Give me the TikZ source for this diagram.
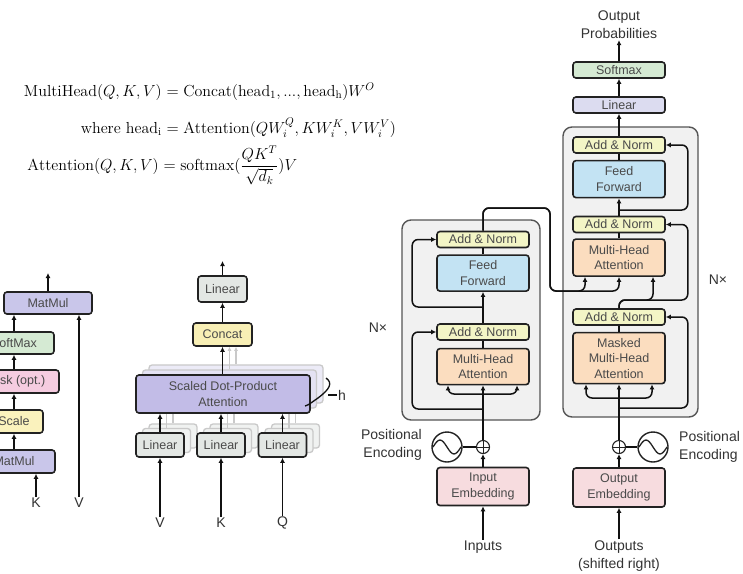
\documentclass[tikz,border=0pt]{standalone}
\usepackage{amsmath}
\usepackage{graphicx}
\usepackage{fontspec}
\setsansfont{Liberation Sans}
\usetikzlibrary{arrows.meta,backgrounds,calc,positioning}
\definecolor{boxInk}{HTML}{222222}
\definecolor{lineInk}{HTML}{111111}
\definecolor{labelInk}{HTML}{4A4A4A}
\definecolor{captionInk}{HTML}{333333}
\definecolor{normFill}{HTML}{F3F5C6}
\definecolor{ffFill}{HTML}{C3E3F3}
\definecolor{attnFill}{HTML}{FBDDBF}
\definecolor{embedFill}{HTML}{F7DCDF}
\definecolor{softFill}{HTML}{D5EAD3}
\definecolor{linearFill}{HTML}{DCDCF0}
\definecolor{stackFill}{HTML}{F1F1F1}
\definecolor{stackLine}{HTML}{555555}
\definecolor{matFill}{HTML}{C9C6EA}
\definecolor{maskFill}{HTML}{F5CCE0}
\definecolor{scaleFill}{HTML}{FAF2BD}
\definecolor{concatFill}{HTML}{F8EFB5}
\definecolor{linGray}{HTML}{E3E7E4}
\definecolor{sdpaFill}{HTML}{C2BCE7}
\definecolor{ghostLine}{HTML}{C9C9C9}
\definecolor{ghostFill}{HTML}{E4E2F3}
\definecolor{ghostLinFill}{HTML}{F0F2F1}
\newcommand{\eqbox}[1]{\scalebox{1.11}{$#1$}}
\tikzset{
  block/.style={
    draw=boxInk,
    line width=1.6pt,
    rounded corners=3pt,
    font=\sffamily\fontsize{12.5}{15.5}\selectfont,
    text=labelInk,
    align=center,
    inner sep=0pt
  },
  addnorm box/.style={block, fill=normFill, minimum width=92pt, minimum height=16pt},
  ff box/.style={block, fill=ffFill, minimum width=92pt, minimum height=36pt},
  attn box/.style={block, fill=attnFill, minimum width=92pt, minimum height=36pt},
  embed box/.style={block, fill=embedFill, minimum width=92pt, minimum height=38pt},
  ghost box/.style={
    draw=ghostLine,
    line width=1.3pt,
    rounded corners=3pt,
    inner sep=0pt
  },
  stack/.style={
    draw=stackLine,
    fill=stackFill,
    line width=1.4pt,
    rounded corners=9pt,
    inner sep=0pt
  },
  adder/.style={
    circle,
    draw=boxInk,
    line width=1.1pt,
    minimum size=13pt,
    inner sep=0pt,
    path picture={
      \draw[line width=1pt] (path picture bounding box.north) -- (path picture bounding box.south)
        (path picture bounding box.west) -- (path picture bounding box.east);
    }
  },
  wave/.style={
    circle,
    draw=boxInk,
    line width=1.4pt,
    minimum size=30pt,
    inner sep=0pt,
    path picture={
      \draw[line width=1.3pt] ([xshift=-14pt]path picture bounding box.center)
        sin ++(7,-7) cos ++(7,7) sin ++(7,7) cos ++(7,-7);
    }
  },
  flow/.style={
    -{Latex[length=5pt,width=5pt]},
    draw=lineInk,
    line width=1.5pt,
    rounded corners=6pt
  },
  ghost flow/.style={
    -{Latex[length=4pt,width=4pt]},
    draw=ghostLine,
    line width=1.2pt
  },
  wire/.style={
    draw=lineInk,
    line width=1.5pt
  },
  caption/.style={
    font=\sffamily\fontsize{14}{18}\selectfont,
    text=captionInk,
    align=center,
    inner sep=1pt
  },
  formula lhs/.style={
    anchor=base east,
    inner sep=0pt,
    font=\fontsize{14.4}{17}\selectfont
  },
  formula rhs/.style={
    anchor=base west,
    inner sep=0pt,
    font=\fontsize{14.4}{17}\selectfont
  }
}

\begin{document}
\begin{tikzpicture}[x=1pt,y=-1pt,node distance=6pt]
  \useasboundingbox (0,0) rectangle (743,573);

  % formulas, lined up on the equals signs
  \node[formula lhs] (eq-multihead-lhs) at (162,96) {\eqbox{\mathrm{MultiHead}(Q,K,V)}};
  \node[formula rhs] (eq-multihead-rhs) at (162,96)
    {\eqbox{{}=\mathrm{Concat}(\mathrm{head_1},...,\mathrm{head_h})W^O}};
  \node[formula lhs] (eq-head-lhs) at (162,133) {\eqbox{\text{where }\mathrm{head_i}}};
  \node[formula rhs] (eq-head-rhs) at (162,133)
    {\eqbox{{}=\mathrm{Attention}(QW_i^Q,KW_i^K,VW_i^V)}};
  \node[formula lhs] (eq-attention-lhs) at (159,170) {\eqbox{\mathrm{Attention}(Q,K,V)}};
  \node[formula rhs] (eq-attention-rhs) at (159,170)
    {\eqbox{{}=\mathrm{softmax}(\dfrac{QK^T}{\sqrt{d_k}})V}};

  % scaled dot-product attention
  \node[block,fill=matFill,minimum width=88pt,minimum height=22pt] (sd-matmul2) at (48,303) {MatMul};
  \node[block,fill=softFill,minimum width=80pt,minimum height=22pt] (sd-softmax) at (14,343) {SoftMax};
  \node[block,fill=maskFill,minimum width=90pt,minimum height=23pt] (sd-mask) at (14,381.5) {Mask (opt.)};
  \node[block,fill=scaleFill,minimum width=58pt,minimum height=23pt] (sd-scale) at (14,421.5) {Scale};
  \node[block,fill=matFill,minimum width=82pt,minimum height=23pt] (sd-matmul1) at (14,461.5) {MatMul};
  \node[caption] (sd-k) at (36,503) {K};
  \node[caption] (sd-v) at (79,503) {V};
  \coordinate (sd-out) at (48,273);

  \draw[flow] (sd-matmul2.north) -- (sd-out);
  \draw[flow] (sd-softmax.north) -- (sd-softmax.north |- sd-matmul2.south);
  \draw[flow] (sd-mask.north) -- (sd-softmax.south);
  \draw[flow] (sd-scale.north) -- (sd-mask.south);
  \draw[flow] (sd-matmul1.north) -- (sd-scale.south);
  \draw[flow] (sd-k.north) -- (sd-k.north |- sd-matmul1.south);
  \draw[flow] (sd-v.north) -- (sd-v.north |- sd-matmul2.south);

  % multi-head attention
  \node[block,fill=linGray,minimum width=49pt,minimum height=26pt] (mh-linear) at (222.5,289) {Linear};
  \node[block,fill=concatFill,minimum width=59pt,minimum height=23pt] (mh-concat) at (222.5,334.5) {Concat};
  \node[ghost box,fill=ghostFill!70,minimum width=174pt,minimum height=38pt] (mh-sdpa-g2) at (236,384) {};
  \node[ghost box,fill=ghostFill,minimum width=174pt,minimum height=38pt] (mh-sdpa-g1) at (229.5,389) {};
  \draw[ghost flow] (mh-sdpa-g2.north) -- (mh-sdpa-g2.north |- mh-concat.south);
  \draw[ghost flow] (mh-sdpa-g1.north) -- (mh-sdpa-g1.north |- mh-concat.south);
  \foreach \name/\x in {v/160,k/221,q/282.5} {
    \node[ghost box,fill=ghostLinFill,minimum width=48pt,minimum height=24pt] (mh-lin-\name-g2) at (\x+13,436) {};
    \node[ghost box,fill=ghostLinFill,minimum width=48pt,minimum height=24pt] (mh-lin-\name-g1) at (\x+6.5,440.5) {};
    \draw[ghost flow] (mh-lin-\name-g2.north) -- (mh-lin-\name-g2.north |- mh-sdpa-g2.south);
    \draw[ghost flow] (mh-lin-\name-g1.north) -- (mh-lin-\name-g1.north |- mh-sdpa-g1.south);
  }
  \node[block,fill=sdpaFill,minimum width=174pt,minimum height=38pt] (mh-sdpa) at (223,394) {Scaled Dot-Product\\Attention};
  \foreach \name/\x/\label in {v/160/V,k/221/K,q/282.5/Q} {
    \node[block,fill=linGray,minimum width=48pt,minimum height=24pt] (mh-lin-\name) at (\x,445) {Linear};
    \node[caption] (mh-in-\name) at (\x,523) {\label};
    \draw[flow] (mh-in-\name.north) -- (mh-lin-\name.south);
    \draw[flow] (mh-lin-\name.north) -- (mh-lin-\name.north |- mh-sdpa.south);
  }
  \coordinate (mh-out) at (222.5,261);
  \draw[flow] (mh-linear.north) -- (mh-out);
  \draw[flow] (mh-concat.north) -- (mh-linear.south);
  \draw[flow] (mh-sdpa.north -| mh-concat.south) -- (mh-concat.south);
  \node[caption] (mh-h) at (342,395) {h};
  \coordinate (mh-brace) at (328,395);
  \draw[wire,line width=1.3pt] (326,378) .. controls (333,383) and (330,389) .. (318,398)
    .. controls (312,402) and (309,405) .. (305,406);
  \draw[wire,line width=1.1pt] (mh-brace) -- (mh-h.west);

  % encoder
  \node[addnorm box] (enc-an2) at (483,239.5) {Add \& Norm};
  \node[ff box,below=6pt of enc-an2] (enc-ff) {Feed\\Forward};
  \node[addnorm box] (enc-an1) at (483,332) {Add \& Norm};
  \node[attn box,below=7pt of enc-an1] (enc-mha) {Multi-Head\\Attention};
  \node[adder] (enc-add) at (483,447) {};
  \node[wave] (enc-pe) at (447,447) {};
  \node[embed box] (enc-embed) at (483,486.5) {Input\\Embedding};
  \node[caption] (enc-input) at (483,547) {Inputs};
  \node[caption,anchor=east,align=right] (enc-pe-label) at (423,445) {Positional\\Encoding};
  \node[caption] (enc-n) at (378,328) {N×};
  \coordinate (enc-split) at (483,394);
  \coordinate (enc-res1) at (483,409);
  \coordinate (enc-res2) at (483,307);

  \draw[flow] (enc-input.north) -- (enc-embed.south);
  \draw[flow] (enc-embed.north) -- (enc-add.south);
  \draw[wire] (enc-pe.east) -- (enc-add.west);
  \draw[flow] (enc-add.north) -- (enc-mha.south);
  \draw[flow] (enc-split) -| ([xshift=-35pt]enc-mha.south);
  \draw[flow] (enc-split) -| ([xshift=34pt]enc-mha.south);
  \draw[flow] (enc-res1) -| ([xshift=-24pt]enc-an1.west) -- (enc-an1.west);
  \draw[wire] (enc-mha.north) -- (enc-an1.south);
  \draw[flow] (enc-an1.north) -- (enc-ff.south);
  \draw[flow] (enc-res2) -| ([xshift=-24pt]enc-an2.west) -- (enc-an2.west);
  \draw[wire] (enc-ff.north) -- (enc-an2.south);

  % decoder
  \node[block,fill=softFill,minimum width=92pt,minimum height=16pt] (dec-softmax) at (619,70) {Softmax};
  \node[block,fill=linearFill,minimum width=92pt,minimum height=16pt] (dec-linear) at (619,105) {Linear};
  \node[addnorm box] (dec-an3) at (619,145) {Add \& Norm};
  \node[ff box,below=6pt of dec-an3,minimum height=37pt] (dec-ff) {Feed\\Forward};
  \node[addnorm box] (dec-an2) at (619,224.5) {Add \& Norm};
  \node[attn box,below=5pt of dec-an2,minimum height=37pt] (dec-mha) {Multi-Head\\Attention};
  \node[addnorm box] (dec-an1) at (619,317) {Add \& Norm};
  \node[attn box,below=6pt of dec-an1,minimum height=51pt] (dec-mmha) {Masked\\Multi-Head\\Attention};
  \node[adder] (dec-add) at (619,447) {};
  \node[wave] (dec-pe) at (653,447) {};
  \node[embed box,minimum height=39pt] (dec-embed) at (619,487.5) {Output\\Embedding};
  \node[caption] (dec-output) at (619,556) {Outputs\\(shifted right)};
  \node[caption] (dec-probs) at (619,25) {Output\\Probabilities};
  \node[caption,anchor=west,align=left] (dec-pe-label) at (678,447) {Positional\\Encoding};
  \node[caption] (dec-n) at (718,280) {N×};
  \coordinate (dec-split) at (619,398);
  \coordinate (dec-res1) at (619,408);
  \coordinate (dec-q) at (619,300);
  \coordinate (dec-res3) at (619,210);
  \coordinate (mem-top) at (550,208);
  \coordinate (mem-low) at (550,291);

  \draw[flow] (dec-output.north) -- (dec-embed.south);
  \draw[flow] (dec-embed.north) -- (dec-add.south);
  \draw[wire] (dec-pe.west) -- (dec-add.east);
  \draw[flow] (dec-add.north) -- (dec-mmha.south);
  \draw[flow] (dec-split) -| ([xshift=-33pt]dec-mmha.south);
  \draw[flow] (dec-split) -| ([xshift=33pt]dec-mmha.south);
  \draw[flow] (dec-res1) -| ([xshift=22pt]dec-an1.east) -- (dec-an1.east);
  \draw[wire] (dec-mmha.north) -- (dec-an1.south);
  \draw[flow] (dec-an1.north) -- (dec-q) -| ([xshift=34pt]dec-mha.south);
  \draw[flow] (dec-an1.north) -- (dec-q) -| ([xshift=22pt]dec-an2.east) -- (dec-an2.east);
  \draw[flow] (enc-an2.north) |- (mem-top) -- (mem-low) -| ([xshift=-34pt]dec-mha.south);
  \draw[flow] (enc-an2.north) |- (mem-top) -- (mem-low) -| (dec-mha.south);
  \draw[wire] (dec-mha.north) -- (dec-an2.south);
  \draw[flow] (dec-an2.north) -- (dec-ff.south);
  \draw[flow] (dec-res3) -| ([xshift=22pt]dec-an3.east) -- (dec-an3.east);
  \draw[wire] (dec-ff.north) -- (dec-an3.south);
  \draw[flow] (dec-an3.north) -- (dec-linear.south);
  \draw[flow] (dec-linear.north) -- (dec-softmax.south);
  \draw[flow] (dec-softmax.north) -- (dec-probs.south);

  \begin{scope}[on background layer]
    \fill[white] (0,0) rectangle (743,573);
    \node[stack,minimum width=138pt,minimum height=200pt] (encoder) at (471,320) {};
    \node[stack,minimum width=135pt,minimum height=290pt] (decoder) at (630.5,272) {};
  \end{scope}
\end{tikzpicture}
\end{document}
